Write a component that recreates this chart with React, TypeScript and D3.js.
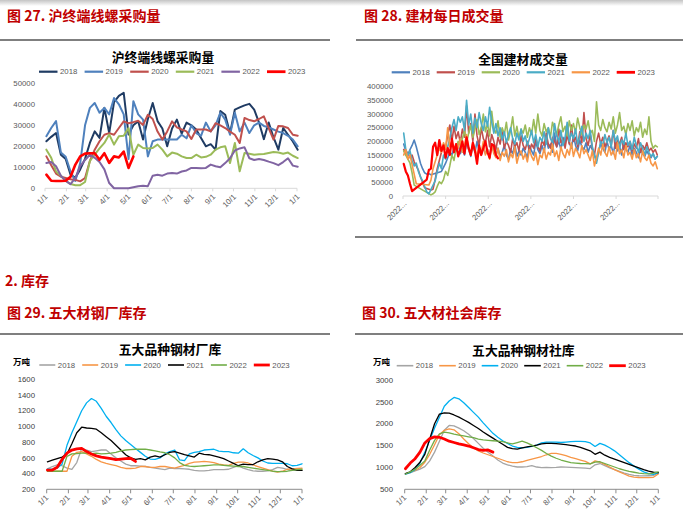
import React from 'react';
import * as d3 from 'd3';

const YEARS = ['2018', '2019', '2020', '2021', '2022', '2023'];
const MONTH_TICK_DAYS = [0, 31, 59, 90, 120, 151, 181, 212, 243, 273, 304, 334, 365];
const MONTH_TICK_LABELS = ['1/1', '2/1', '3/1', '4/1', '5/1', '6/1', '7/1', '8/1', '9/1', '10/1', '11/1', '12/1', '1/1'];
const DATE_TICK_DAYS = [0, 61, 122, 183, 244, 305, 365];
const DATE_TICK_LABELS = ['2022...', '2022...', '2022...', '2022...', '2022...', '2022...', ''];

// ---------- 图27 沪终端线螺采购量 (weekly) ----------
const PURCHASE_TICKS = [0, 10000, 20000, 30000, 40000, 50000];
const purchase2018 = [22400, 24500, 26300, 16000, 14000, 6500, 5000, 9000, 14000, 21600, 27100, 24000, 38300, 26300, 41000, 44000, 45500, 25600, 30000, 31900, 23200, 33000, 40600, 32000, 28500, 20000, 28500, 32700, 26000, 31300, 30000, 28000, 24000, 20000, 21000, 18400, 36800, 35000, 26200, 37500, 38500, 39500, 40200, 37500, 31300, 23400, 31300, 24200, 18400, 28700, 25500, 22300, 18400];
const purchase2019 = [24800, 28700, 32000, 17000, 15000, 8000, 3500, 12000, 30000, 38300, 40600, 36000, 38300, 35200, 43000, 40000, 35200, 14000, 41500, 35200, 32700, 15200, 22400, 23200, 23200, 23200, 23200, 23200, 25500, 23800, 30000, 26300, 25000, 31300, 27100, 30000, 36000, 32700, 25500, 36000, 27100, 31300, 26300, 30000, 31300, 29700, 29000, 28000, 27000, 26300, 25000, 23200, 20000];
const purchase2020 = [15200, 11000, 7000, 5500, 4900, 4300, 4000, 3300, 4900, 13000, 18400, 22400, 25500, 26300, 25500, 28700, 31900, 31000, 31500, 32200, 30200, 35000, 33000, 27000, 23200, 27100, 31900, 29000, 28000, 27100, 23500, 28000, 28000, 28000, 27100, 31000, 30000, 28700, 27000, 25500, 21600, 33500, 32500, 31900, 33000, 34300, 28700, 23200, 29700, 29500, 28700, 25500, 25000];
const purchase2021 = [18400, 14500, 8000, 6000, 3500, 2000, 1500, 1500, 3000, 13000, 16000, 19000, 21600, 25600, 20800, 24800, 25000, 28700, 16000, 20800, 19200, 19000, 19200, 20800, 18400, 15200, 17000, 16500, 15200, 14400, 14400, 16000, 14700, 15000, 16000, 18400, 19500, 20000, 12000, 21600, 8100, 16800, 16500, 16000, 16200, 16300, 16800, 17300, 17000, 16500, 17000, 15500, 14400];
const purchase2022 = [12000, 12500, 10500, 6000, 3500, 2000, 5000, 10600, 13500, 16000, 14500, 12500, 9000, 2500, 0, 0, 0, 0, 500, 1000, 1200, 1000, 6000, 6500, 6000, 7000, 7300, 7000, 8000, 8500, 9700, 9700, 9500, 9700, 11300, 10500, 10000, 12000, 14300, 18000, 19000, 19500, 14300, 13500, 14000, 13500, 12700, 12000, 11000, 12500, 14300, 10800, 10300];
const purchase2023 = [6500, 3600, 3500, 3500, 3600, 5500, 11300, 15200, 16500, 16700, 16700, 13600, 16700, 12100, 15200, 14700, 17500, 9700, 15200];

// ---------- 图28 全国建材成交量 (sampled every 3 days, null = holiday) ----------
const DEAL_TICKS = [0, 50000, 100000, 150000, 200000, 250000, 300000, 350000, 400000];
const deal2018 = [190000, 165000, 150000, 170000, 185000, 205000, 180000, 150000, 120000, 100000, 85000, 80000, 82000, 78000,
  null, null, null, null,
  90000, 105000, 120000, 140000, 160000, 150000, 175000, 165000, 190000, 155000,
  175000, 150000, 195000, 170000, 145000, 185000, 160000, 200000, 165000, 150000,
  180000, 155000, 170000, 140000, 190000, 165000, 150000, 175000, 145000, 160000,
  185000, 150000, 135000, 170000, 155000, 190000, 145000, 165000, 150000, 175000,
  160000, 140000, 185000, 165000, 150000, 200000, 170000, 155000, 185000, 160000,
  210000, 175000, 190000, 160000, 230000, 180000, 200000, 170000, 215000, 185000,
  255000, 195000, 175000, 220000, 185000, 165000, 205000, 180000, 170000, 195000,
  160000, 185000, 170000, 150000, 130000, 165000, 190000, 175000, 160000, 200000,
  170000, 185000, 155000, 195000, 165000, 180000, 150000, 200000, 170000, 160000,
  185000, 150000, 175000, 160000, 140000, 170000, 155000, 145000, 165000, 150000,
  140000, 155000, 135000, 145000];
const deal2019 = [170000, 150000, 160000, 140000, 150000, 125000, 110000, 95000, 70000, 50000, 30000,
  null, null,
  22000, 25000, 60000, 100000, 130000, 160000, 190000, 175000, 225000, 260000, 200000, 255000, 210000, 235000, 195000,
  245000, 215000, 330000, 230000, 265000, 200000, 300000, 220000, 185000, 250000,
  210000, 195000, 240000, 180000, 225000, 200000, 170000, 215000, 190000, 235000,
  175000, 200000, 185000, 160000, 210000, 180000, 195000, 165000, 220000, 185000,
  170000, 200000, 160000, 190000, 175000, 215000, 180000, 165000, 205000, 185000,
  230000, 190000, 175000, 215000, 200000, 180000, 245000, 195000, 210000, 175000,
  225000, 190000, 260000, 200000, 215000, 180000, 235000, 195000, 305000, 210000,
  185000, 225000, 175000, 150000, 200000, 230000, 190000, 215000, 180000, 200000,
  220000, 185000, 240000, 175000, 205000, 190000, 215000, 170000, 195000, 180000,
  200000, 165000, 190000, 175000, 210000, 160000, 185000, 170000, 195000, 165000,
  175000, 160000, 170000, 150000];
const deal2020 = [165000, 150000, 135000, 120000, 85000, 40000,
  null, null, null, null, null, null, null,
  4000, 8000, 15000, 35000, 52000, 45000, 60000, 90000, 75000, 110000, 150000, 130000, 175000, 200000, 185000,
  210000, 240000, 195000, 230000, 260000, 215000, 245000, 280000, 225000, 250000,
  300000, 235000, 265000, 220000, 310000, 245000, 230000, 275000, 215000, 250000,
  225000, 270000, 205000, 240000, 290000, 220000, 255000, 210000, 245000, 230000,
  260000, 215000, 250000, 225000, 280000, 230000, 300000, 240000, 220000, 265000,
  235000, 250000, 215000, 270000, 245000, 225000, 260000, 290000, 235000, 255000,
  220000, 275000, 240000, 265000, 230000, 285000, 250000, 225000, 260000, 245000,
  275000, 230000, 240000, 200000, 345000, 260000, 240000, 280000, 250000, 235000,
  270000, 245000, 290000, 230000, 260000, 305000, 240000, 255000, 225000, 265000,
  240000, 275000, 220000, 250000, 235000, 270000, 215000, 245000, 225000, 290000,
  200000, 175000, 185000, 180000];
const deal2021 = [230000, 170000, 150000, 165000, 130000, 110000, 120000, 90000, 70000, 55000, 35000, 15000, 8000,
  null, null,
  55000, 90000, 120000, 100000, 150000, 135000, 180000, 210000, 250000, 280000, 240000, 290000, 270000,
  290000, 240000, 350000, 260000, 300000, 230000, 285000, 250000, 305000, 265000,
  240000, 290000, 255000, 325000, 270000, 230000, 265000, 220000, 250000, 205000,
  235000, 195000, 225000, 250000, 210000, 190000, 230000, 205000, 245000, 200000,
  220000, 185000, 210000, 240000, 195000, 225000, 180000, 215000, 200000, 235000,
  190000, 250000, 210000, 195000, 265000, 220000, 200000, 240000, 185000, 215000,
  270000, 200000, 230000, 210000, 245000, 190000, 220000, 255000, 200000, 230000,
  210000, 240000, 180000, 150000, 120000, 160000, 200000, 185000, 225000, 195000,
  215000, 180000, 240000, 200000, 220000, 175000, 205000, 190000, 230000, 185000,
  200000, 170000, 215000, 185000, 160000, 195000, 175000, 150000, 180000, 160000,
  145000, 155000, 135000, 145000];
const deal2022 = [150000, 170000, 135000, 150000, 115000, 80000, 45000,
  null, null, null, null, null,
  40000, 58000, 100000, 125000, 150000, 175000, 160000, 195000, 170000, 250000, 180000, 200000, 165000, 190000, 175000, 210000,
  160000, 185000, 225000, 170000, 150000, 195000, 175000, 140000, 180000, 160000,
  200000, 150000, 170000, 135000, 185000, 155000, 140000, 175000, 130000, 160000,
  145000, 170000, 125000, 155000, 140000, 180000, 120000, 150000, 165000, 135000,
  155000, 125000, 170000, 145000, 130000, 160000, 115000, 150000, 140000, 175000,
  135000, 160000, 150000, 190000, 145000, 165000, 130000, 180000, 155000, 140000,
  170000, 150000, 195000, 145000, 175000, 160000, 140000, 185000, 155000, 170000,
  150000, 130000, 165000, 110000, 140000, 175000, 150000, 190000, 160000, 145000,
  180000, 150000, 165000, 135000, 195000, 155000, 170000, 140000, 185000, 150000,
  160000, 135000, 170000, 140000, 155000, 125000, 165000, 140000, 130000, 150000,
  120000, 110000, 125000, 100000];
const deal2023 = [118000, 90000, 75000, 45000, 18000,
  null, null, null, null, null, null,
  60000, 95000, 100000, 180000, 195000, 150000, 205000, 165000, 185000, 140000, 175000, 150000, 210000, 160000, 190000,
  145000, 170000, 200000, 155000, 215000, 175000, 150000, 195000, 165000, 118000, 185000, 150000, 175000, 200000, 160000,
  140000, 190000, 185000, 150000, 138000];

// ---------- 图29 五大品种钢材厂库 (weekly, 万吨) ----------
const MILL_TICKS = [200, 400, 600, 800, 1000, 1200, 1400, 1600];
const mill2018 = [460, 490, 510, 500, 470, 455, 540, 720, 700, 680, 690, 700, 700, 650, 600, 560, 520, 500, 500, 495, 490, 480, 470, 460, 450, 470, 465, 465, 460, 455, 440, 435, 435, 440, 450, 450, 450, 455, 480, 500, 470, 450, 435, 430, 430, 435, 450, 480, 470, 455, 440, 440, 445];
const mill2019 = [430, 430, 430, 430, 430, 620, 670, 680, 650, 620, 580, 550, 530, 515, 500, 480, 465, 465, 470, 490, 490, 480, 480, 490, 490, 480, 470, 490, 505, 530, 545, 550, 555, 550, 540, 520, 510, 505, 530, 545, 545, 535, 510, 490, 470, 450, 430, 420, 430, 455, 460, 465, 470];
const mill2020 = [455, 455, 470, 520, 760, 920, 1060, 1200, 1300, 1355, 1320, 1230, 1130, 1050, 960, 880, 820, 770, 720, 670, 620, 585, 580, 600, 650, 680, 700, 575, 565, 650, 670, 680, 700, 705, 710, 685, 680, 680, 665, 660, 715, 665, 630, 600, 560, 535, 530, 530, 530, 525, 500, 505, 525];
const mill2021 = [550, 570, 590, 610, 650, 780, 920, 990, 980, 975, 965, 920, 870, 820, 760, 700, 640, 600, 580, 590, 575, 610, 625, 610, 640, 670, 680, 660, 640, 625, 610, 660, 645, 640, 625, 610, 590, 560, 530, 500, 520, 515, 515, 550, 575, 590, 585, 575, 550, 490, 460, 440, 440];
const mill2022 = [430, 430, 430, 430, 620, 650, 655, 660, 660, 655, 660, 650, 655, 660, 670, 690, 700, 705, 710, 710, 710, 700, 690, 675, 665, 640, 600, 540, 505, 495, 490, 495, 500, 505, 510, 510, 505, 500, 495, 490, 490, 480, 470, 460, 450, 440, 430, 425, 425, 430, 440, 450, 455];
const mill2023 = [445, 445, 480, 580, 660, 700, 715, 720, 680, 650, 625, 610, 600, 590, 578, 585, 590, 595, 555];

// ---------- 图30 五大品种钢材社库 (weekly, 万吨) ----------
const SOCIAL_TICKS = [500, 1000, 1500, 2000, 2500, 3000];
const social2018 = [850, 880, 920, 960, 1020, 1150, 1350, 1600, 1850, 1960, 1950, 1900, 1840, 1760, 1660, 1550, 1440, 1350, 1260, 1170, 1100, 1060, 1030, 1010, 1010, 1020, 1040, 1010, 995, 1000, 995, 1000, 1010, 1005, 1000, 995, 990, 985, 975, 1060, 1090, 1040, 990, 950, 910, 870, 840, 820, 810, 805, 810, 815, 870];
const social2019 = [850, 890, 930, 1000, 1120, 1300, 1520, 1750, 1850, 1880, 1860, 1770, 1650, 1540, 1450, 1380, 1330, 1290, 1250, 1210, 1170, 1130, 1110, 1110, 1130, 1160, 1190, 1220, 1250, 1290, 1320, 1320, 1300, 1270, 1230, 1200, 1170, 1140, 1080, 1150, 1120, 1070, 1010, 950, 900, 850, 800, 780, 770, 765, 765, 775, 850];
const social2020 = [850, 880, 950, 1100, 1350, 1620, 1900, 2150, 2400, 2520, 2600, 2570, 2480, 2370, 2260, 2150, 2020, 1900, 1780, 1690, 1610, 1550, 1490, 1460, 1450, 1460, 1480, 1510, 1560, 1580, 1580, 1580, 1570, 1580, 1590, 1595, 1595, 1590, 1560, 1480, 1550, 1510, 1450, 1380, 1290, 1200, 1110, 1030, 960, 900, 860, 840, 880];
const social2021 = [860, 900, 1000, 1120, 1300, 1650, 2000, 2220, 2250, 2240, 2200, 2150, 2090, 2030, 1960, 1890, 1810, 1740, 1670, 1600, 1530, 1460, 1430, 1420, 1450, 1470, 1490, 1510, 1540, 1550, 1550, 1545, 1535, 1520, 1505, 1490, 1460, 1420, 1380, 1300, 1350, 1280, 1230, 1190, 1150, 1110, 1070, 1030, 990, 950, 915, 890, 880];
const social2022 = [850, 900, 960, 1050, 1150, 1400, 1620, 1770, 1810, 1790, 1760, 1740, 1720, 1700, 1680, 1650, 1630, 1620, 1610, 1600, 1590, 1560, 1540, 1570, 1600, 1560, 1510, 1450, 1390, 1320, 1260, 1210, 1170, 1140, 1110, 1100, 1090, 1085, 1080, 1120, 1130, 1090, 1050, 1010, 970, 940, 910, 890, 870, 860, 855, 870, 900];
const social2023 = [970, 1100, 1200, 1350, 1560, 1660, 1700, 1690, 1650, 1600, 1570, 1540, 1515, 1490, 1450, 1410, 1390, 1400, 1350];

const CJK = '"Noto Sans CJK SC", "Noto Sans", sans-serif';
const LATIN = '"Liberation Sans", Arial, sans-serif';

type Cfg = {
  title: string; titleX: number; titleY: number;
  x0: number; x1: number; yTop: number; yBottom: number;
  yDomain: [number, number]; yTicks: number[]; yLabelX: number; yLabelColor: string;
  tickDays: number[]; tickLabels: string[]; tlDx: number; tlDy: number; tickLen: number;
  axisColor: string; labelColor: string;
  series: (number | null)[][]; colors: string[]; widths: number[]; legendWidths: number[];
  dayStart: number; dayStep: number;
  legendX: number; legendY: number; legendStep: number; legendLen: number;
  unit?: { text: string; x: number; y: number };
};

function Chart({ cfg }: { cfg: Cfg }) {
  const xs = d3.scaleLinear().domain([0, 365]).range([cfg.x0, cfg.x1]);
  const ys = d3.scaleLinear().domain(cfg.yDomain).range([cfg.yBottom, cfg.yTop]);
  const line = d3.line<[number, number]>().x(d => xs(d[0])).y(d => ys(d[1]));
  const axisY = ys(cfg.yDomain[0]);
  return (
    <g>
      <text x={cfg.titleX} y={cfg.titleY} textAnchor="middle" dominantBaseline="central"
        fontFamily={CJK} fontWeight={700} fontSize={12.8} fill="#000">{cfg.title}</text>
      {cfg.unit && (
        <text x={cfg.unit.x} y={cfg.unit.y} fontFamily={CJK} fontWeight={700} fontSize={8.5} fill="#000">{cfg.unit.text}</text>
      )}
      {YEARS.map((yr, i) => {
        const lx = cfg.legendX + i * cfg.legendStep;
        return (
          <g key={yr}>
            <line x1={lx} x2={lx + cfg.legendLen} y1={cfg.legendY} y2={cfg.legendY}
              stroke={cfg.colors[i]} strokeWidth={cfg.legendWidths[i]} />
            <text x={lx + cfg.legendLen + 2.5} y={cfg.legendY} dy="0.35em" fontFamily={LATIN}
              fontSize={7.8} fill={cfg.labelColor}>{yr}</text>
          </g>
        );
      })}
      {cfg.yTicks.map(v => (
        <text key={v} x={cfg.yLabelX} y={ys(v)} dy="0.35em" textAnchor="end" fontFamily={LATIN}
          fontSize={7.8} fill={cfg.yLabelColor}>{v}</text>
      ))}
      <line x1={cfg.x0} x2={cfg.x1} y1={axisY} y2={axisY} stroke={cfg.axisColor} strokeWidth={1} />
      {cfg.tickDays.map((d, i) => (
        <g key={i}>
          <line x1={xs(d)} x2={xs(d)} y1={axisY} y2={axisY + cfg.tickLen} stroke={cfg.axisColor} strokeWidth={1} />
          <text transform={`translate(${xs(d) + cfg.tlDx},${axisY + cfg.tlDy}) rotate(-45)`} textAnchor="end"
            fontFamily={LATIN} fontSize={7.8} fill={cfg.labelColor}>{cfg.tickLabels[i]}</text>
        </g>
      ))}
      {cfg.series.map((vals, i) => {
        const pts = vals
          .map((v, j) => [cfg.dayStart + j * cfg.dayStep, v] as [number, number | null])
          .filter(p => p[1] !== null) as [number, number][];
        return (
          <path key={i} d={line(pts) || ''} fill="none" stroke={cfg.colors[i]} strokeWidth={cfg.widths[i]}
            strokeLinejoin="round" strokeLinecap="round" />
        );
      })}
    </g>
  );
}

const chart1: Cfg = {
  title: '沪终端线螺采购量', titleX: 163, titleY: 56.5,
  x0: 45, x1: 297, yTop: 83.3, yBottom: 188.3,
  yDomain: [0, 50000], yTicks: PURCHASE_TICKS, yLabelX: 35, yLabelColor: '#595959',
  tickDays: MONTH_TICK_DAYS, tickLabels: MONTH_TICK_LABELS, tlDx: 3, tlDy: 9, tickLen: 3,
  axisColor: '#D9D9D9', labelColor: '#595959',
  series: [purchase2018, purchase2019, purchase2020, purchase2021, purchase2022, purchase2023],
  colors: ['#1F3B63', '#4F81BD', '#C0504D', '#9BBB59', '#8064A2', '#FF0000'],
  widths: [2, 2, 2, 2, 2, 2.6], legendWidths: [2.2, 2.2, 2.2, 2.2, 2.2, 2.8],
  dayStart: 2, dayStep: 7,
  legendX: 39, legendY: 71.7, legendStep: 45.6, legendLen: 18.5,
};

const chart2: Cfg = {
  title: '全国建材成交量', titleX: 523, titleY: 58,
  x0: 403, x1: 658, yTop: 86.7, yBottom: 196,
  yDomain: [0, 400000], yTicks: DEAL_TICKS, yLabelX: 393, yLabelColor: '#595959',
  tickDays: DATE_TICK_DAYS, tickLabels: DATE_TICK_LABELS, tlDx: 4, tlDy: 8, tickLen: 3,
  axisColor: '#D9D9D9', labelColor: '#595959',
  series: [deal2018, deal2019, deal2020, deal2021, deal2022, deal2023],
  colors: ['#4F81BD', '#C0504D', '#9BBB59', '#4BACC6', '#F79646', '#FF0000'],
  widths: [1.6, 1.6, 1.6, 1.6, 1.6, 2.2], legendWidths: [2.2, 2.2, 2.2, 2.2, 2.2, 2.8],
  dayStart: 1, dayStep: 3,
  legendX: 391.7, legendY: 72.3, legendStep: 45, legendLen: 18.3,
};

const STOCK_COLORS = ['#A5A5A5', '#F79646', '#00B0F0', '#000000', '#70AD47', '#FF0000'];

const chart3: Cfg = {
  title: '五大品种钢材厂库', titleX: 170, titleY: 348.3,
  x0: 46.7, x1: 302, yTop: 379.3, yBottom: 489.3,
  yDomain: [200, 1600], yTicks: MILL_TICKS, yLabelX: 35, yLabelColor: '#404040',
  tickDays: MONTH_TICK_DAYS, tickLabels: MONTH_TICK_LABELS, tlDx: 2, tlDy: 9, tickLen: 4,
  axisColor: '#8C8C8C', labelColor: '#595959',
  series: [mill2018, mill2019, mill2020, mill2021, mill2022, mill2023],
  colors: STOCK_COLORS,
  widths: [1.3, 1.3, 1.3, 1.3, 1.3, 2.8], legendWidths: [1.6, 1.6, 1.6, 1.6, 1.6, 2.8],
  dayStart: 1, dayStep: 7,
  legendX: 39.3, legendY: 365, legendStep: 42.9, legendLen: 16,
  unit: { text: '万吨', x: 13, y: 365 },
};

const chart4: Cfg = {
  title: '五大品种钢材社库', titleX: 523.3, titleY: 349.3,
  x0: 404.7, x1: 658.3, yTop: 380, yBottom: 489.3,
  yDomain: [500, 3000], yTicks: SOCIAL_TICKS, yLabelX: 393, yLabelColor: '#404040',
  tickDays: MONTH_TICK_DAYS, tickLabels: MONTH_TICK_LABELS, tlDx: 2, tlDy: 9, tickLen: 4,
  axisColor: '#8C8C8C', labelColor: '#595959',
  series: [social2018, social2019, social2020, social2021, social2022, social2023],
  colors: STOCK_COLORS,
  widths: [1.3, 1.3, 1.3, 1.3, 1.3, 2.8], legendWidths: [1.6, 1.6, 1.6, 1.6, 1.6, 2.8],
  dayStart: 1, dayStep: 7,
  legendX: 396.7, legendY: 365.7, legendStep: 42.5, legendLen: 16.6,
  unit: { text: '万吨', x: 373, y: 365 },
};

export default function App() {
  const red = '#C00000';
  return (
    <svg width={683} height={518} viewBox="0 0 683 518"
      style={{ position: 'absolute', left: 0, top: 0, background: '#fff', display: 'block' }}>
      <defs>
        <linearGradient id="topShade" x1="0" y1="0" x2="0" y2="1">
          <stop offset="0" stopColor="#c4c4c4" />
          <stop offset="1" stopColor="#ffffff" />
        </linearGradient>
      </defs>
      <rect x={0} y={0} width={683} height={518} fill="#fff" />
      <rect x={0} y={0} width={683} height={6} fill="url(#topShade)" />

      <text x={7} y={20.5} fill={red} fontFamily={CJK} fontWeight={700} fontSize={14}>图 27. 沪终端线螺采购量</text>
      <text x={364} y={20.5} fill={red} fontFamily={CJK} fontWeight={700} fontSize={14}>图 28. 建材每日成交量</text>
      <text x={5} y={286} fill={red} fontFamily={CJK} fontWeight={700} fontSize={14}>2. 库存</text>
      <text x={7} y={318} fill={red} fontFamily={CJK} fontWeight={700} fontSize={14}>图 29. 五大材钢厂库存</text>
      <text x={362} y={318} fill={red} fontFamily={CJK} fontWeight={700} fontSize={14}>图 30. 五大材社会库存</text>

      <line x1={0} x2={330} y1={40} y2={40} stroke="#000" strokeWidth={1.2} />
      <line x1={356} x2={683} y1={40} y2={40} stroke="#000" strokeWidth={1.2} />
      <line x1={355} x2={683} y1={237} y2={237} stroke="#000" strokeWidth={1.2} />
      <line x1={0} x2={330} y1={334} y2={334} stroke="#000" strokeWidth={1.2} />
      <line x1={355} x2={683} y1={334} y2={334} stroke="#000" strokeWidth={1.2} />

      <Chart cfg={chart1} />
      <Chart cfg={chart2} />
      <Chart cfg={chart3} />
      <Chart cfg={chart4} />
    </svg>
  );
}
